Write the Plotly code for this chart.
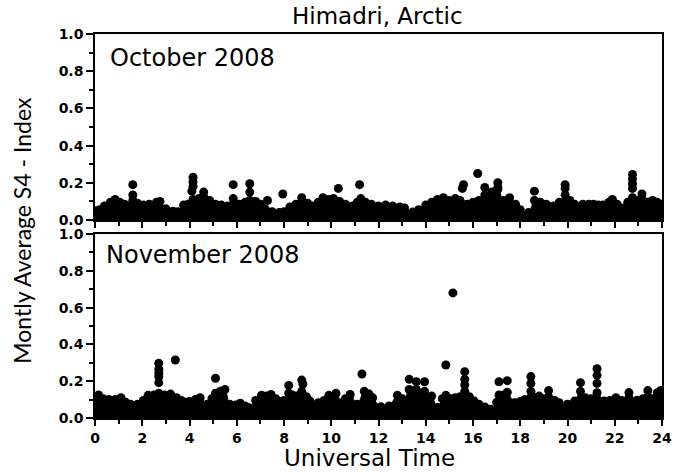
import plotly.graph_objects as go

# ---------------- data ----------------
# October 2008: upper envelope of the dense point cloud
oct_hours = [0.0, 0.2, 0.4, 0.65, 0.85, 1.05, 1.25, 1.6, 1.8, 2.05, 2.3, 2.6, 2.75, 3.0, 3.3, 3.5,
             3.75, 3.95, 4.15, 4.4, 4.6, 4.85, 5.1, 5.35, 5.6, 5.85, 6.1, 6.35, 6.55, 6.8, 7.0, 7.2,
             7.5, 7.8, 8.0, 8.25, 8.5, 8.75, 9.0, 9.2, 9.45, 9.65, 9.9, 10.1, 10.35, 10.6, 10.9,
             11.1, 11.25, 11.45, 11.7, 12.0, 12.3, 12.6, 12.9, 13.1, 13.45, 13.7, 14.0, 14.25,
             14.5, 14.75, 15.0, 15.25, 15.45, 15.75, 16.0, 16.25, 16.5, 16.8, 17.05, 17.3, 17.55,
             17.8, 18.0, 18.35, 18.6, 18.85, 19.1, 19.4, 19.65, 19.9, 20.1, 20.3, 20.65, 20.9,
             21.1, 21.3, 21.5, 21.75, 21.9, 22.1, 22.3, 22.55, 22.75, 23.0, 23.15, 23.4, 23.6,
             23.8, 24.0]
oct_s4 = [0.05, 0.055, 0.075, 0.095, 0.11, 0.095, 0.085, 0.105, 0.09, 0.08, 0.085, 0.095, 0.1,
          0.06, 0.047, 0.045, 0.08, 0.085, 0.11, 0.115, 0.125, 0.105, 0.085, 0.08, 0.075, 0.085,
          0.085, 0.095, 0.105, 0.1, 0.085, 0.06, 0.045, 0.04, 0.045, 0.07, 0.085, 0.12, 0.09,
          0.075, 0.095, 0.12, 0.11, 0.115, 0.1, 0.085, 0.075, 0.095, 0.115, 0.095, 0.085, 0.075,
          0.08, 0.075, 0.07, 0.065, 0.043, 0.055, 0.08, 0.095, 0.11, 0.12, 0.105, 0.115, 0.105,
          0.085, 0.095, 0.105, 0.135, 0.15, 0.165, 0.105, 0.12, 0.085, 0.055, 0.04, 0.105,
          0.095, 0.085, 0.075, 0.095, 0.135, 0.105, 0.085, 0.085, 0.085, 0.085, 0.08, 0.08,
          0.095, 0.11, 0.085, 0.065, 0.095, 0.12, 0.105, 0.115, 0.095, 0.105, 0.095, 0.085]
# October 2008: isolated / stacked points above the cloud
oct_spike_hours = [1.6, 1.6, 4.15, 4.15, 4.15, 4.1, 4.6, 5.85, 5.85, 6.55, 6.55, 7.3, 7.95,
                   10.3, 11.2, 15.6, 15.55, 16.2, 16.5, 17.05, 17.05, 18.6, 19.9, 19.9,
                   22.75, 22.75, 22.75, 22.75, 23.15]
oct_spike_s4 = [0.19, 0.135, 0.23, 0.205, 0.18, 0.155, 0.15, 0.19, 0.115, 0.195, 0.15, 0.105,
                0.14, 0.17, 0.19, 0.19, 0.17, 0.25, 0.175, 0.2, 0.175, 0.155, 0.19, 0.17,
                0.245, 0.22, 0.195, 0.17, 0.14]

# November 2008: upper envelope of the dense point cloud
nov_hours = [0.0, 0.15, 0.35, 0.6, 0.85, 1.1, 1.3, 1.5, 1.8, 2.05, 2.25, 2.5, 2.7, 2.95, 3.2,
             3.45, 3.65, 3.85, 4.0, 4.25, 4.45, 4.75, 4.95, 5.1, 5.3, 5.5, 5.7, 5.95, 6.15, 6.35,
             6.5, 6.8, 7.05, 7.25, 7.45, 7.65, 7.8, 8.0, 8.2, 8.35, 8.55, 8.75, 8.95, 9.1, 9.45,
             9.7, 9.9, 10.2, 10.45, 10.6, 10.8, 11.1, 11.4, 11.6, 11.75, 12.1, 12.45, 12.8, 13.0,
             13.1, 13.3, 13.6, 13.95, 14.25, 14.5, 14.7, 14.85, 15.05, 15.25, 15.45, 15.65,
             15.85, 16.05, 16.25, 16.5, 16.75, 17.0, 17.1, 17.3, 17.45, 17.75, 18.0, 18.2,
             18.45, 18.8, 19.0, 19.2, 19.45, 19.65, 20.0, 20.3, 20.55, 20.75, 21.0, 21.25,
             21.55, 21.8, 22.05, 22.3, 22.6, 22.95, 23.2, 23.4, 23.6, 23.8, 24.0]
nov_s4 = [0.115, 0.125, 0.105, 0.1, 0.1, 0.11, 0.085, 0.075, 0.075, 0.095, 0.123, 0.125, 0.135,
          0.125, 0.13, 0.11, 0.095, 0.085, 0.09, 0.1, 0.11, 0.075, 0.105, 0.135, 0.145, 0.155,
          0.075, 0.07, 0.08, 0.065, 0.057, 0.095, 0.123, 0.12, 0.128, 0.105, 0.09, 0.095, 0.135,
          0.125, 0.119, 0.145, 0.115, 0.092, 0.083, 0.095, 0.123, 0.134, 0.083, 0.105, 0.128,
          0.075, 0.145, 0.13, 0.11, 0.061, 0.065, 0.123, 0.105, 0.092, 0.155, 0.155, 0.145,
          0.119, 0.057, 0.105, 0.123, 0.105, 0.11, 0.115, 0.145, 0.115, 0.092, 0.075, 0.06,
          0.047, 0.085, 0.125, 0.125, 0.14, 0.083, 0.09, 0.101, 0.145, 0.119, 0.105, 0.115,
          0.095, 0.083, 0.075, 0.092, 0.145, 0.11, 0.105, 0.137, 0.092, 0.095, 0.11, 0.095,
          0.11, 0.097, 0.105, 0.115, 0.105, 0.137, 0.11]
# November 2008: isolated / stacked points above the cloud
nov_spike_hours = [2.7, 2.7, 2.7, 2.7, 2.7, 3.4, 5.1, 8.2, 8.75, 8.8, 11.3, 13.3, 13.6, 13.95,
                   14.85, 15.15, 15.65, 15.65, 15.65, 17.1, 17.45, 18.45, 18.45, 19.2, 20.55,
                   21.25, 21.25, 21.25, 22.6, 23.4, 23.95]
nov_spike_s4 = [0.297, 0.265, 0.243, 0.225, 0.192, 0.315, 0.216, 0.177, 0.206, 0.185, 0.239,
                0.21, 0.197, 0.197, 0.288, 0.68, 0.252, 0.21, 0.18, 0.197, 0.203, 0.225, 0.188,
                0.149, 0.192, 0.268, 0.232, 0.188, 0.138, 0.149, 0.15]

x_ticks = [0, 2, 4, 6, 8, 10, 12, 14, 16, 18, 20, 22, 24]
y_ticks = [0.0, 0.2, 0.4, 0.6, 0.8, 1.0]
y_tick_labels = ["0.0", "0.2", "0.4", "0.6", "0.8", "1.0"]

# ---------------- figure ----------------
fig = go.Figure()
MS = 9
for xs, ys, xa, ya in [(oct_hours, oct_s4, "x", "y"), (nov_hours, nov_s4, "x2", "y2")]:
    fig.add_trace(go.Scatter(x=xs, y=ys, xaxis=xa, yaxis=ya, mode="lines+markers",
                             fill="tozeroy", fillcolor="black",
                             line=dict(color="black", width=1, shape="spline"),
                             marker=dict(color="black", size=MS), showlegend=False,
                             hoverinfo="skip"))
for xs, ys, xa, ya in [(oct_spike_hours, oct_spike_s4, "x", "y"),
                       (nov_spike_hours, nov_spike_s4, "x2", "y2")]:
    fig.add_trace(go.Scatter(x=xs, y=ys, xaxis=xa, yaxis=ya, mode="markers",
                             marker=dict(color="black", size=MS), showlegend=False))

tickfont = dict(family="DejaVu Sans", size=14, color="black", weight="bold")
axis_common = dict(showline=True, linecolor="black", linewidth=1.5, mirror=True,
                   showgrid=False, zeroline=False, ticks="outside",
                   tickwidth=1.5, tickcolor="black", tickfont=tickfont, automargin=False)
x_minor = dict(dtick=1, ticks="outside", ticklen=4, tickcolor="black", tickwidth=1.5)
y_minor = dict(dtick=0.1, ticks="outside", ticklen=4, tickcolor="black", tickwidth=1.5)

top_dom = [(418 - 220) / 384, 1.0]
bot_dom = [0.0, (418 - 234) / 384]

fig.update_layout(
    width=674, height=473,
    margin=dict(l=95, r=12, t=34, b=55),
    plot_bgcolor="white", paper_bgcolor="white",
    xaxis=dict(axis_common, range=[0, 24], tickvals=x_ticks, showticklabels=False,
               anchor="y", domain=[0, 1], ticklen=6, minor=x_minor),
    yaxis=dict(axis_common, range=[0, 1], tickvals=y_ticks, ticktext=y_tick_labels,
               domain=top_dom, anchor="x", ticklen=7, minor=y_minor),
    xaxis2=dict(axis_common, range=[0, 24], tickvals=x_ticks, anchor="y2", domain=[0, 1],
                ticklen=6, minor=x_minor),
    yaxis2=dict(axis_common, range=[0, 1], tickvals=y_ticks, ticktext=y_tick_labels,
                domain=bot_dom, anchor="x2", ticklen=7, minor=y_minor),
)

label_font = dict(family="DejaVu Sans", size=24, color="black")
fig.add_annotation(text="Himadri, Arctic", xref="paper", yref="paper", x=0.499, y=1.0,
                   yshift=18, showarrow=False, font=dict(family="DejaVu Sans", size=23, color="black"),
                   xanchor="center", yanchor="middle")
fig.add_annotation(text="October 2008", xref="x", yref="y", x=0.55, y=0.87,
                   showarrow=False, font=label_font, xanchor="left", yanchor="middle")
fig.add_annotation(text="November 2008", xref="x2", yref="y2", x=0.38, y=0.885,
                   showarrow=False, font=label_font, xanchor="left", yanchor="middle")
fig.add_annotation(text="Montly Average S4 - Index", xref="paper", yref="paper",
                   x=-0.129, y=0.49, textangle=-90, showarrow=False,
                   font=dict(family="Lato", size=23, color="black"),
                   xanchor="center", yanchor="middle")
fig.add_annotation(text="Universal Time", xref="paper", yref="paper", x=0.484, y=-0.103,
                   showarrow=False, font=dict(family="DejaVu Sans", size=23, color="black"),
                   xanchor="center", yanchor="middle")

fig.write_html("out.html")
